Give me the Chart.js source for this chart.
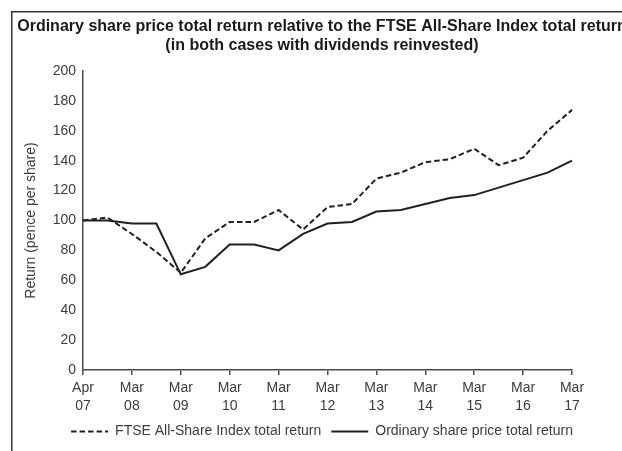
<!DOCTYPE html>
<html>
<head>
<meta charset="utf-8">
<script src="https://cdn.jsdelivr.net/npm/chart.js@4"></script>
<style>
  html, body { margin: 0; padding: 0; background: #fff; overflow: hidden; }
  #wrap { width: 622px; height: 451px; overflow: hidden; }
  #wrap div { width: 644px; height: 451px; position: relative; }
</style>
</head>
<body>
<div id="wrap"><div><canvas id="chart"></canvas></div></div>
<script>
// half-yearly points, Apr 07 .. Mar 17
const periods = ['Apr 07', 'Sep 07', 'Mar 08', 'Sep 08', 'Mar 09', 'Sep 09', 'Mar 10', 'Sep 10',
  'Mar 11', 'Sep 11', 'Mar 12', 'Sep 12', 'Mar 13', 'Sep 13', 'Mar 14', 'Sep 14',
  'Mar 15', 'Sep 15', 'Mar 16', 'Sep 16', 'Mar 17'];
const ftseReturn = [100, 102, 91, 79, 65, 88, 99, 99, 107, 94, 109, 111, 128, 132, 139, 141, 148, 137, 142, 160, 174];
const shareReturn = [100, 100, 98, 98, 64, 69, 84, 84, 80, 91, 98, 99, 106, 107, 111, 115, 117, 122, 127, 132, 140];
const titleLines = ['Ordinary share price total return relative to the FTSE All-Share Index total return',
  '(in both cases with dividends reinvested)'];

const ink = '#231f20';
const grey = '#3c3c3c';
const font = 'Liberation Sans, Arial, sans-serif';

// frame + two line heading drawn on the canvas
const framePlugin = {
  id: 'frameTitle',
  beforeDraw(chart) {
    const ctx = chart.ctx;
    ctx.save();
    ctx.strokeStyle = '#333';
    ctx.lineWidth = 1.5;
    ctx.beginPath();
    ctx.moveTo(11.75, chart.height);
    ctx.lineTo(11.75, 11.75);
    ctx.lineTo(chart.width, 11.75);
    ctx.stroke();
    // heading is wider than the window in the original, fit first line to ~610px
    ctx.font = 'bold 13px ' + font;
    let size = 13 * 610 / ctx.measureText(titleLines[0]).width;
    ctx.font = 'bold ' + size.toFixed(2) + 'px ' + font;
    ctx.fillStyle = '#1a1a1a';
    ctx.textAlign = 'center';
    ctx.textBaseline = 'middle';
    ctx.fillText(titleLines[0], chart.width / 2, 27);
    ctx.fillText(titleLines[1], chart.width / 2, 45.5);
    ctx.restore();
  }
};

new Chart(document.getElementById('chart'), {
  type: 'line',
  data: {
    labels: periods,
    datasets: [{
      label: 'FTSE All-Share Index total return',
      data: ftseReturn,
      borderColor: ink,
      backgroundColor: ink,
      borderWidth: 2,
      borderDash: [5.5, 3],
      pointRadius: 0,
      tension: 0
    }, {
      label: 'Ordinary share price total return',
      data: shareReturn,
      borderColor: ink,
      backgroundColor: ink,
      borderWidth: 2,
      pointRadius: 0,
      tension: 0
    }]
  },
  options: {
    responsive: true,
    maintainAspectRatio: false,
    animation: false,
    layout: { padding: { top: 71, left: 0, right: 0, bottom: 2.5 } },
    plugins: {
      title: { display: false },
      tooltip: { enabled: false },
      legend: {
        position: 'bottom',
        labels: {
          usePointStyle: true,
          pointStyle: 'line',
          pointStyleWidth: 37,
          padding: 10,
          color: grey,
          font: { family: font, size: 14 },
          generateLabels(chart) {
            const items = Chart.defaults.plugins.legend.labels.generateLabels(chart);
            items.forEach(it => {
              it.lineDash = chart.data.datasets[it.datasetIndex].borderDash || [];
            });
            return items;
          }
        }
      }
    },
    scales: {
      x: {
        grid: {
          drawOnChartArea: false,
          drawTicks: true,
          tickLength: 5,
          color: c => (c.index % 2 === 0 ? '#4d4d4d' : 'rgba(0,0,0,0)'),
          lineWidth: 1.5
        },
        border: { color: '#4d4d4d', width: 1.5 },
        ticks: {
          autoSkip: false,
          maxRotation: 0,
          padding: 4.5,
          color: grey,
          font: { family: font, size: 14, lineHeight: 1.25 },
          callback: function (v, i) {
            return i % 2 === 0 ? periods[i].split(' ') : '';
          }
        },
        afterFit: s => { s.paddingRight = 72; s.height = 44.5; }
      },
      y: {
        min: 0,
        max: 200,
        grid: { display: false, drawTicks: false },
        border: { color: '#4d4d4d', width: 1.5 },
        ticks: {
          stepSize: 20,
          padding: 7,
          color: grey,
          font: { family: font, size: 14 }
        },
        title: {
          display: true,
          text: 'Return (pence per share)',
          color: grey,
          font: { family: font, size: 14 },
          padding: { top: 23, bottom: 0 }
        },
        afterFit: s => { s.width = 83; }
      }
    }
  },
  plugins: [framePlugin]
});
</script>
</body>
</html>
